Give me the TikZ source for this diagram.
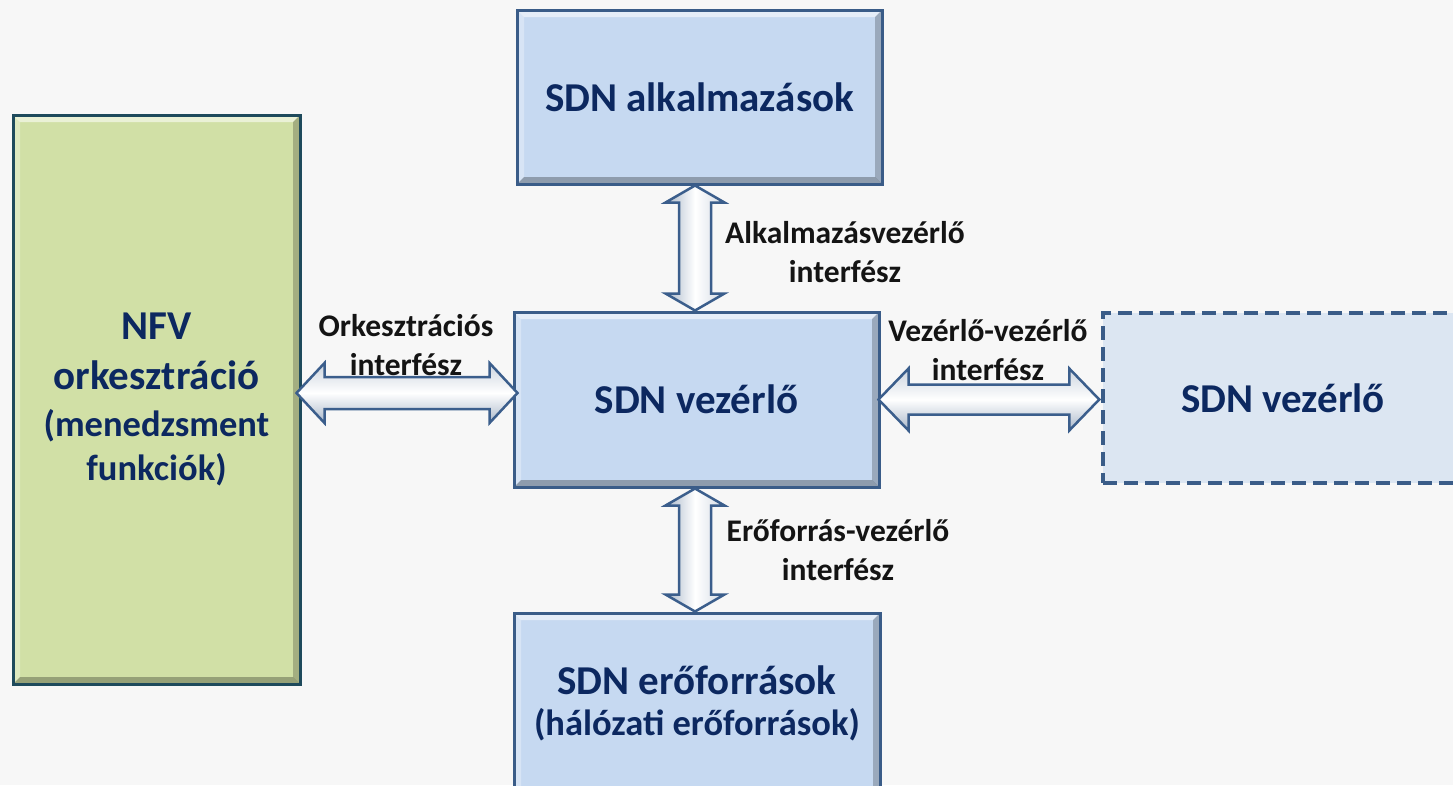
\documentclass[tikz,border=0pt]{standalone}
\usepackage{fontspec}
\setmainfont{Carlito}
\usetikzlibrary{calc}
\definecolor{bg}{HTML}{F7F7F7}
\definecolor{boxblue}{HTML}{C6D9F1}
\definecolor{boxgreen}{HTML}{D1E0A6}
\definecolor{boxdash}{HTML}{DCE6F2}
\definecolor{edgeblue}{HTML}{3A5C88}
\definecolor{edgegreen}{HTML}{1E4A5C}
\definecolor{navy}{HTML}{0C2860}
\definecolor{arrowedge}{HTML}{3B5E8C}
\definecolor{arrowshade}{HTML}{A9B7C9}
\newcommand\hdarrow[5]{%
  \path[ifarrow,top color=arrowshade!60,bottom color=arrowshade,middle color=white]
  let \p1=(#1),\p2=(#2) in
  (\x1,\y1) -- (\x1+#3,\y1+#4) -- (\x1+#3,\y1+#5) -- (\x2-#3,\y1+#5) -- (\x2-#3,\y1+#4) -- (\x2,\y1)
  -- (\x2-#3,\y1-#4) -- (\x2-#3,\y1-#5) -- (\x1+#3,\y1-#5) -- (\x1+#3,\y1-#4) -- cycle;}
\newcommand\vdarrow[5]{%
  \path[ifarrow,left color=arrowshade,right color=arrowshade!50,middle color=white]
  let \p1=(#1),\p2=(#2) in
  (\x1,\y1) -- (\x1+#4,\y1-#3) -- (\x1+#5,\y1-#3) -- (\x1+#5,\y2+#3) -- (\x1+#4,\y2+#3) -- (\x1,\y2)
  -- (\x1-#4,\y2+#3) -- (\x1-#5,\y2+#3) -- (\x1-#5,\y1-#3) -- (\x1-#4,\y1-#3) -- cycle;}
\newcommand\subline{\fontsize{36.5}{43}\selectfont}
\tikzset{
  bevel/.style={path picture={
    \fill[white,opacity=0.55] (path picture bounding box.north west) -- (path picture bounding box.north east)
      -- ([xshift=-7pt,yshift=-7pt]path picture bounding box.north east) -- ([xshift=7pt,yshift=-7pt]path picture bounding box.north west) -- cycle;
    \fill[white,opacity=0.3] (path picture bounding box.north west) -- (path picture bounding box.south west)
      -- ([xshift=7pt,yshift=7pt]path picture bounding box.south west) -- ([xshift=7pt,yshift=-7pt]path picture bounding box.north west) -- cycle;
    \fill[black,opacity=0.28] (path picture bounding box.south west) -- (path picture bounding box.south east)
      -- ([xshift=-7pt,yshift=7pt]path picture bounding box.south east) -- ([xshift=7pt,yshift=7pt]path picture bounding box.south west) -- cycle;
    \fill[black,opacity=0.22] (path picture bounding box.north east) -- (path picture bounding box.south east)
      -- ([xshift=-7pt,yshift=7pt]path picture bounding box.south east) -- ([xshift=-7pt,yshift=-7pt]path picture bounding box.north east) -- cycle;
  }},
  bigtext/.style={font=\fontsize{41}{47}\selectfont\bfseries, text=navy, align=center, inner sep=0pt},
  bluebox/.style={bigtext, draw=edgeblue, line width=3pt, fill=boxblue, bevel},
  greenbox/.style={bigtext, draw=edgegreen, line width=3pt, fill=boxgreen, bevel},
  dashbox/.style={bigtext, draw=edgeblue, line width=3.5pt, fill=boxdash, dash pattern=on 14pt off 7pt},
  ifarrow/.style={draw=arrowedge, line width=2.5pt, line join=miter},
  lbl/.style={font=\fontsize{31.5}{39}\selectfont\bfseries, text=black!92, align=center, inner sep=0pt}
}
\begin{document}
\begin{tikzpicture}[x=1pt,y=-1pt]
\clip (0,0) rectangle (1453,785);
\fill[bg] (0,0) rectangle (1453,785);

\node[bluebox, minimum width=365pt, minimum height=174pt] (app) at (699.5,97) {SDN alkalmazások};
\node[bluebox, minimum width=365pt, minimum height=175pt] (ctrl) at (696.5,399.5) {SDN vezérlő};
\node[bluebox, minimum width=366pt, minimum height=180pt] (res) at (697,703) {SDN erőforrások\\[-6pt]{\subline(hálózati erőforrások)}};
\node[greenbox, minimum width=287pt, minimum height=569pt] (nfv) at (156.5,399.5) {NFV\\[3pt]orkesztráció\\{\subline(menedzsment}\\[-3pt]{\subline funkciók)}};
\node[dashbox, minimum width=360pt, minimum height=170pt] (peer) at (1283,398) {SDN vezérlő};

\coordinate (oL) at ([xshift=-5pt,yshift=6.5pt]nfv.east);
\coordinate (oR) at ([xshift=5pt,yshift=6.5pt]ctrl.west);
\hdarrow{oL}{oR}{28pt}{30pt}{16pt}

\coordinate (vL) at ([xshift=-2pt]ctrl.east);
\coordinate (vR) at ([xshift=-2pt]peer.west);
\hdarrow{vL}{vR}{30pt}{31pt}{15pt}

\coordinate (aT) at ([xshift=-4.5pt]app.south);
\coordinate (aB) at ([xshift=-1.5pt]ctrl.north);
\vdarrow{aT}{aB}{17pt}{29.5pt}{16pt}

\coordinate (rT) at ([xshift=-1.5pt]ctrl.south);
\coordinate (rB) at ([xshift=-2pt]res.north);
\vdarrow{rT}{rB}{17pt}{29.5pt}{16pt}

\node[lbl] (lblApp) at (845,252) {Alkalmazásvezérlő\\interfész};
\node[lbl] (lblOrch) at (406,345) {Orkesztrációs\\interfész};
\node[lbl] (lblPeer) at (988,350) {Vezérlő-vezérlő\\interfész};
\node[lbl] (lblRes) at (838,550) {Erőforrás-vezérlő\\interfész};
\end{tikzpicture}
\end{document}
